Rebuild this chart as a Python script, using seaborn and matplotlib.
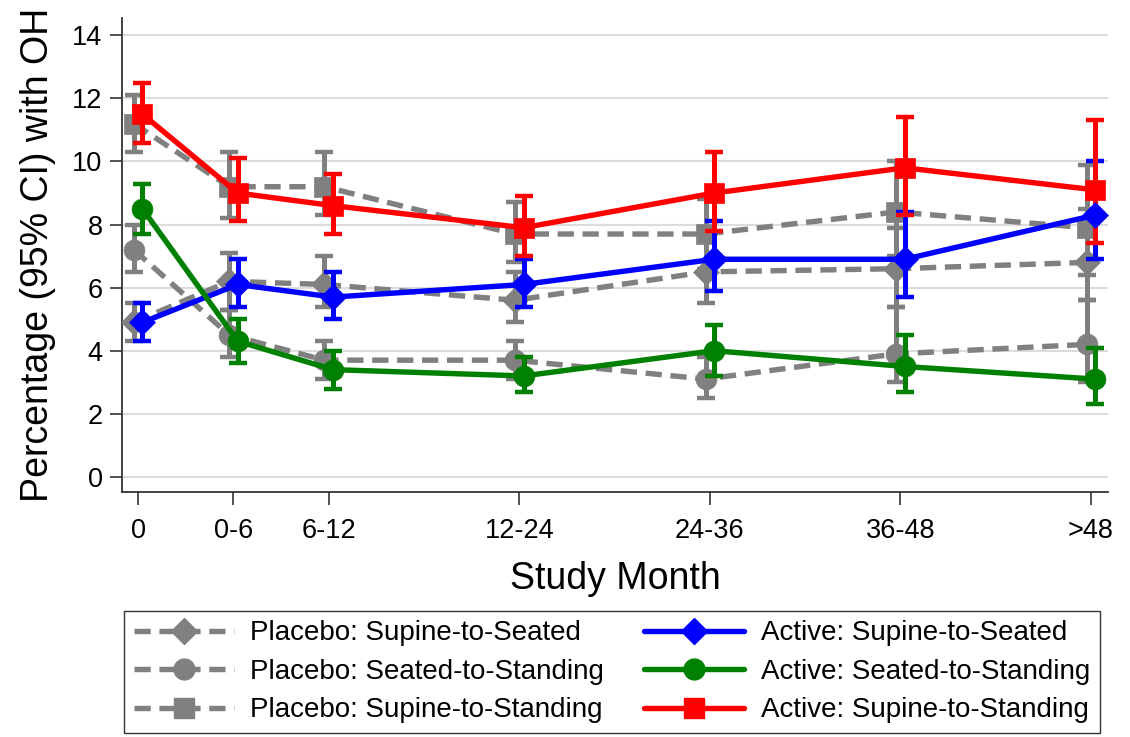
import numpy as np
import pandas as pd
import seaborn as sns
import matplotlib
matplotlib.use("Agg")
import matplotlib.pyplot as plt
from matplotlib.lines import Line2D

# ---- data ----
months = ["0", "0-6", "6-12", "12-24", "24-36", "36-48", ">48"]
month_pos = [0, 1, 2, 4, 6, 8, 10]

plc_sup_seat = [4.9, 6.2, 6.1, 5.6, 6.5, 6.6, 6.8]
plc_sup_seat_lo = [4.3, 5.3, 5.4, 4.9, 5.5, 5.4, 5.6]
plc_sup_seat_hi = [5.5, 7.1, 7.0, 6.5, 7.5, 7.9, 8.5]

plc_seat_stand = [7.2, 4.5, 3.7, 3.7, 3.1, 3.9, 4.2]
plc_seat_stand_lo = [6.5, 3.8, 3.1, 3.1, 2.5, 3.0, 3.0]
plc_seat_stand_hi = [8.0, 5.3, 4.3, 4.3, 3.8, 5.4, 5.6]

plc_sup_stand = [11.2, 9.2, 9.2, 7.7, 7.7, 8.4, 7.9]
plc_sup_stand_lo = [10.3, 8.2, 8.3, 6.8, 6.6, 7.0, 6.4]
plc_sup_stand_hi = [12.1, 10.3, 10.3, 8.7, 8.8, 10.0, 9.9]

act_sup_seat = [4.9, 6.1, 5.7, 6.1, 6.9, 6.9, 8.3]
act_sup_seat_lo = [4.3, 5.4, 5.0, 5.4, 5.9, 5.7, 6.9]
act_sup_seat_hi = [5.5, 6.9, 6.5, 6.9, 8.1, 8.4, 10.0]

act_seat_stand = [8.5, 4.3, 3.4, 3.2, 4.0, 3.5, 3.1]
act_seat_stand_lo = [7.7, 3.6, 2.8, 2.7, 3.2, 2.7, 2.3]
act_seat_stand_hi = [9.3, 5.0, 4.0, 3.8, 4.8, 4.5, 4.1]

act_sup_stand = [11.5, 9.0, 8.6, 7.9, 9.0, 9.8, 9.1]
act_sup_stand_lo = [10.6, 8.1, 7.7, 7.0, 7.8, 8.3, 7.4]
act_sup_stand_hi = [12.5, 10.1, 9.6, 8.9, 10.3, 11.4, 11.3]

series_names = [
    "Placebo: Supine-to-Seated", "Placebo: Seated-to-Standing", "Placebo: Supine-to-Standing",
    "Active: Supine-to-Seated", "Active: Seated-to-Standing", "Active: Supine-to-Standing",
]

GRAY = "#808080"
series = [
    (series_names[0], plc_sup_seat, plc_sup_seat_lo, plc_sup_seat_hi, GRAY, "D", 13.0, True),
    (series_names[1], plc_seat_stand, plc_seat_stand_lo, plc_seat_stand_hi, GRAY, "o", 15.0, True),
    (series_names[2], plc_sup_stand, plc_sup_stand_lo, plc_sup_stand_hi, GRAY, "s", 14.5, True),
    (series_names[3], act_sup_seat, act_sup_seat_lo, act_sup_seat_hi, "#0000ff", "D", 13.0, False),
    (series_names[4], act_seat_stand, act_seat_stand_lo, act_seat_stand_hi, "#008000", "o", 15.0, False),
    (series_names[5], act_sup_stand, act_sup_stand_lo, act_sup_stand_hi, "#ff0000", "s", 14.5, False),
]

sns.set_style("white")
plt.rcParams["font.family"] = ["Liberation Sans", "DejaVu Sans"]
plt.rcParams["text.color"] = "black"
plt.rcParams["axes.labelcolor"] = "black"
plt.rcParams["xtick.color"] = "black"
plt.rcParams["ytick.color"] = "black"

fig = plt.figure(figsize=(11.30, 7.37), dpi=100)
ax = fig.add_axes([122 / 1130, 1 - 492 / 737, (1108 - 122) / 1130, (492 - 18) / 737])

DASH = (0, (3.0, 1.6))
handles = []
for name, mean, lo, hi, color, mk, ms, placebo in series:
    off = -0.045 if placebo else 0.045
    xs = np.array(month_pos, dtype=float) + off
    m = np.array(mean)
    yerr = [m - np.array(lo), np.array(hi) - m]
    ls = DASH if placebo else "-"
    ax.errorbar(xs, m, yerr=yerr, fmt="none", ecolor=color, elinewidth=3.6,
                capsize=6.5, capthick=3.2, zorder=2 if placebo else 4)
    df = pd.DataFrame({"x": xs, "y": m})
    sns.lineplot(data=df, x="x", y="y", ax=ax, color=color, linewidth=3.9,
                 linestyle=ls, marker=mk, markersize=ms, markeredgecolor=color,
                 markeredgewidth=0.5, zorder=3 if placebo else 5, legend=False)
    handles.append(Line2D([], [], color=color, linewidth=3.9, linestyle=ls,
                          marker=mk, markersize=ms, markeredgecolor=color,
                          label=name))

ax.set_xlim(-0.17, 10.18)
ax.set_ylim(-0.48, 14.55)
ax.set_xticks(month_pos)
ax.set_xticklabels(months)
ax.set_yticks(np.arange(0, 15, 2))
ax.tick_params(axis="both", which="major", labelsize=19.5, length=9, width=1.2,
               color="#333333", direction="out", left=True, bottom=True)
ax.tick_params(axis="x", pad=10)
ax.tick_params(axis="y", pad=5)
ax.yaxis.grid(True, color="#dcdcdc", linewidth=1.5)
ax.xaxis.grid(False)
ax.set_axisbelow(True)
for s in ["top", "right"]:
    ax.spines[s].set_visible(False)
for s in ["left", "bottom"]:
    ax.spines[s].set_color("#333333")
    ax.spines[s].set_linewidth(1.3)
ax.set_xlabel("Study Month", fontsize=27, labelpad=12)
ax.set_ylabel("Percentage (95% CI) with OH", fontsize=27, labelpad=12)

leg = fig.legend(handles=handles, loc="lower left", ncol=2,
                 bbox_to_anchor=(124 / 1130, 4 / 737, (1100 - 124) / 1130, (733 - 612) / 737),
                 mode="expand", fontsize=20, frameon=True, fancybox=False,
                 edgecolor="black", handlelength=3.6, handletextpad=0.6,
                 labelspacing=0.45, borderpad=0.35, borderaxespad=0, columnspacing=1.0)
leg.get_frame().set_linewidth(1.0)

fig.savefig("out.png", dpi=100)
